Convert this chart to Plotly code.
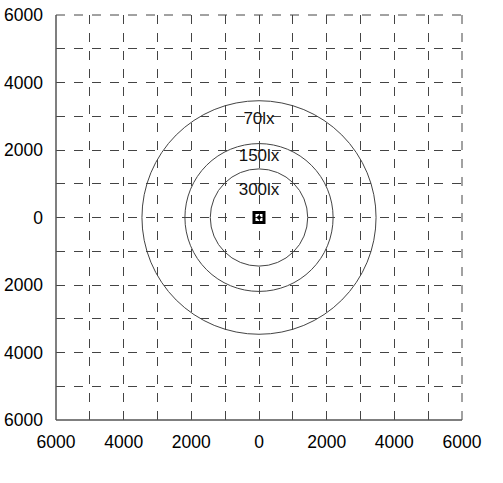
import plotly.graph_objects as go

# illuminance contours (radius in mm) and their labels
levels = ["70lx", "150lx", "300lx"]
radii = [3460, 2190, 1440]
label_y = [2900, 1800, 800]

grid_vals = list(range(-6000, 6001, 1000))
tick_text = [str(abs(v)) if v % 2000 == 0 else "" for v in grid_vals]

fig = go.Figure()

# contour circles
for r in radii:
    fig.add_shape(type="circle", xref="x", yref="y",
                  x0=-r, y0=-r, x1=r, y1=r,
                  line=dict(color="#444444", width=1))

# contour labels
fig.add_trace(go.Scatter(
    x=[0, 0, 0], y=label_y, mode="text", text=levels,
    textfont=dict(color="#111111", size=17, family="Liberation Sans"),
    textposition="middle center", hoverinfo="skip", showlegend=False,
))

# luminaire position
fig.add_trace(go.Scatter(
    x=[0], y=[0], mode="markers",
    marker=dict(symbol="square-open-dot", size=10, color="#000000",
                line=dict(width=3, color="#000000")),
    showlegend=False,
))

axis_common = dict(
    range=[-6000, 6000], tickvals=grid_vals, ticktext=tick_text,
    showgrid=True, gridcolor="#444444", gridwidth=1, griddash="dash",
    zeroline=False, ticks="", showline=False, automargin=False,
    ticklabeloverflow="allow",
    tickfont=dict(size=17.5, color="#000000", family="Liberation Sans"),
)

fig.update_layout(
    width=503, height=483,
    paper_bgcolor="white", plot_bgcolor="white",
    margin=dict(l=56, r=41, t=15, b=63),
    xaxis=dict(**axis_common, ticklabelstandoff=9),
    yaxis=dict(**axis_common, ticklabelstandoff=12),
)

# dashed top and right borders
fig.add_shape(type="line", xref="paper", yref="paper", x0=0, y0=1, x1=1, y1=1,
              line=dict(color="#444444", width=1, dash="dash"))
fig.add_shape(type="line", xref="paper", yref="paper", x0=1, y0=0, x1=1, y1=1,
              line=dict(color="#444444", width=1, dash="dash"))
# solid left and bottom axis lines
fig.add_shape(type="line", xref="paper", yref="paper", x0=0, y0=0, x1=1, y1=0,
              line=dict(color="#555555", width=1.5))
fig.add_shape(type="line", xref="paper", yref="paper", x0=0, y0=0, x1=0, y1=1,
              line=dict(color="#555555", width=1.5))

# drop the page's default body margin so the figure sits at the window corner
fig.write_html("out.html", config={"displayModeBar": False},
               post_script="document.body.style.margin='0';")
